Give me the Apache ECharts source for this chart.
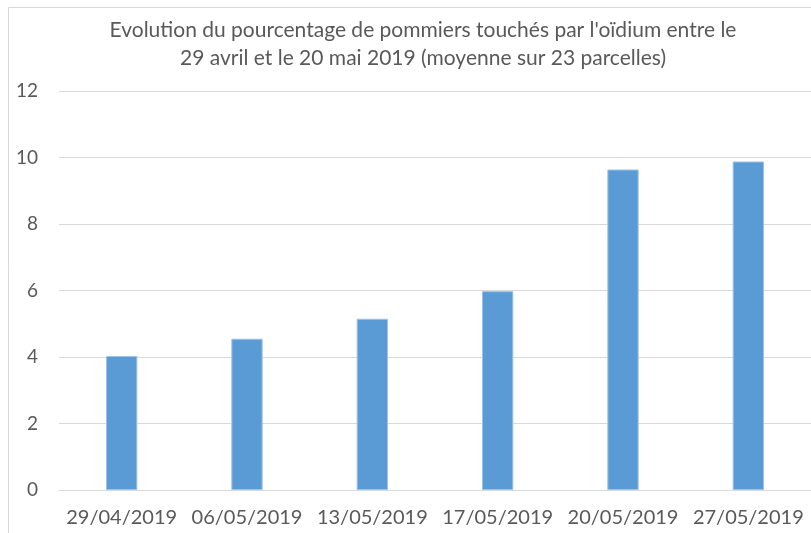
<!DOCTYPE html>
<html lang="fr">
  <head>
    <meta charset="UTF-8" />
    <title>Oïdium pommiers</title>
    <script src="https://cdn.jsdelivr.net/npm/echarts@6/dist/echarts.min.js"></script>
    <style>
      html, body { margin: 0; padding: 0; overflow: hidden; background: #fff; }
    </style>
  </head>
  <body>
    <div id="main" style="width: 811px; height: 533px"></div>
    <script type="text/javascript">
      var dates = [
        "29/04/2019",
        "06/05/2019",
        "13/05/2019",
        "17/05/2019",
        "20/05/2019",
        "27/05/2019",
      ];
      var pctTouches = [4.03, 4.55, 5.15, 5.98, 9.64, 9.88];
      var yTicks = [0, 2, 4, 6, 8, 10, 12];

      var chartDom = document.getElementById("main");
      var myChart = echarts.init(chartDom);
      var option;

      option = {
        animation: false,
        textStyle: { fontFamily: "Lato" },
        title: {
          text:
            "Evolution du pourcentage de pommiers touchés par l'oïdium entre le\n29 avril et le 20 mai 2019 (moyenne sur 23 parcelles)",
          left: 418,
          textAlign: "center",
          top: 11,
          textStyle: {
            fontFamily: "Lato",
            fontWeight: "normal",
            fontSize: 21,
            color: "#595959",
            lineHeight: 28,
          },
        },
        graphic: [
          {
            type: "rect",
            shape: { x: 8.5, y: 7.5, width: 830, height: 560 },
            style: { fill: "none", stroke: "#d9d9d9", lineWidth: 1 },
            silent: true,
          },
        ],
        grid: {
          left: 59,
          right: 0,
          top: 91,
          bottom: 43,
          containLabel: false,
        },
        xAxis: {
          type: "category",
          data: dates,
          axisTick: { show: false },
          axisLine: { lineStyle: { color: "#d9d9d9", width: 1 } },
          axisLabel: {
            color: "#595959",
            fontSize: 20,
            fontFamily: "Lato",
            margin: 18,
            interval: 0,
          },
        },
        yAxis: {
          type: "value",
          min: yTicks[0],
          max: yTicks[yTicks.length - 1],
          interval: yTicks[1] - yTicks[0],
          axisLine: { show: false },
          axisTick: { show: false },
          splitLine: { lineStyle: { color: "#d9d9d9", width: 1 } },
          axisLabel: {
            color: "#595959",
            fontSize: 19,
            fontFamily: "Lato",
            margin: 21,
          },
        },
        series: [
          {
            type: "bar",
            data: pctTouches,
            barWidth: "25%",
            itemStyle: {
              color: "#5b9bd5",
              borderColor: "#9dc3e6",
              borderWidth: 1,
            },
          },
        ],
      };

      option && myChart.setOption(option);
    </script>
  </body>
</html>
